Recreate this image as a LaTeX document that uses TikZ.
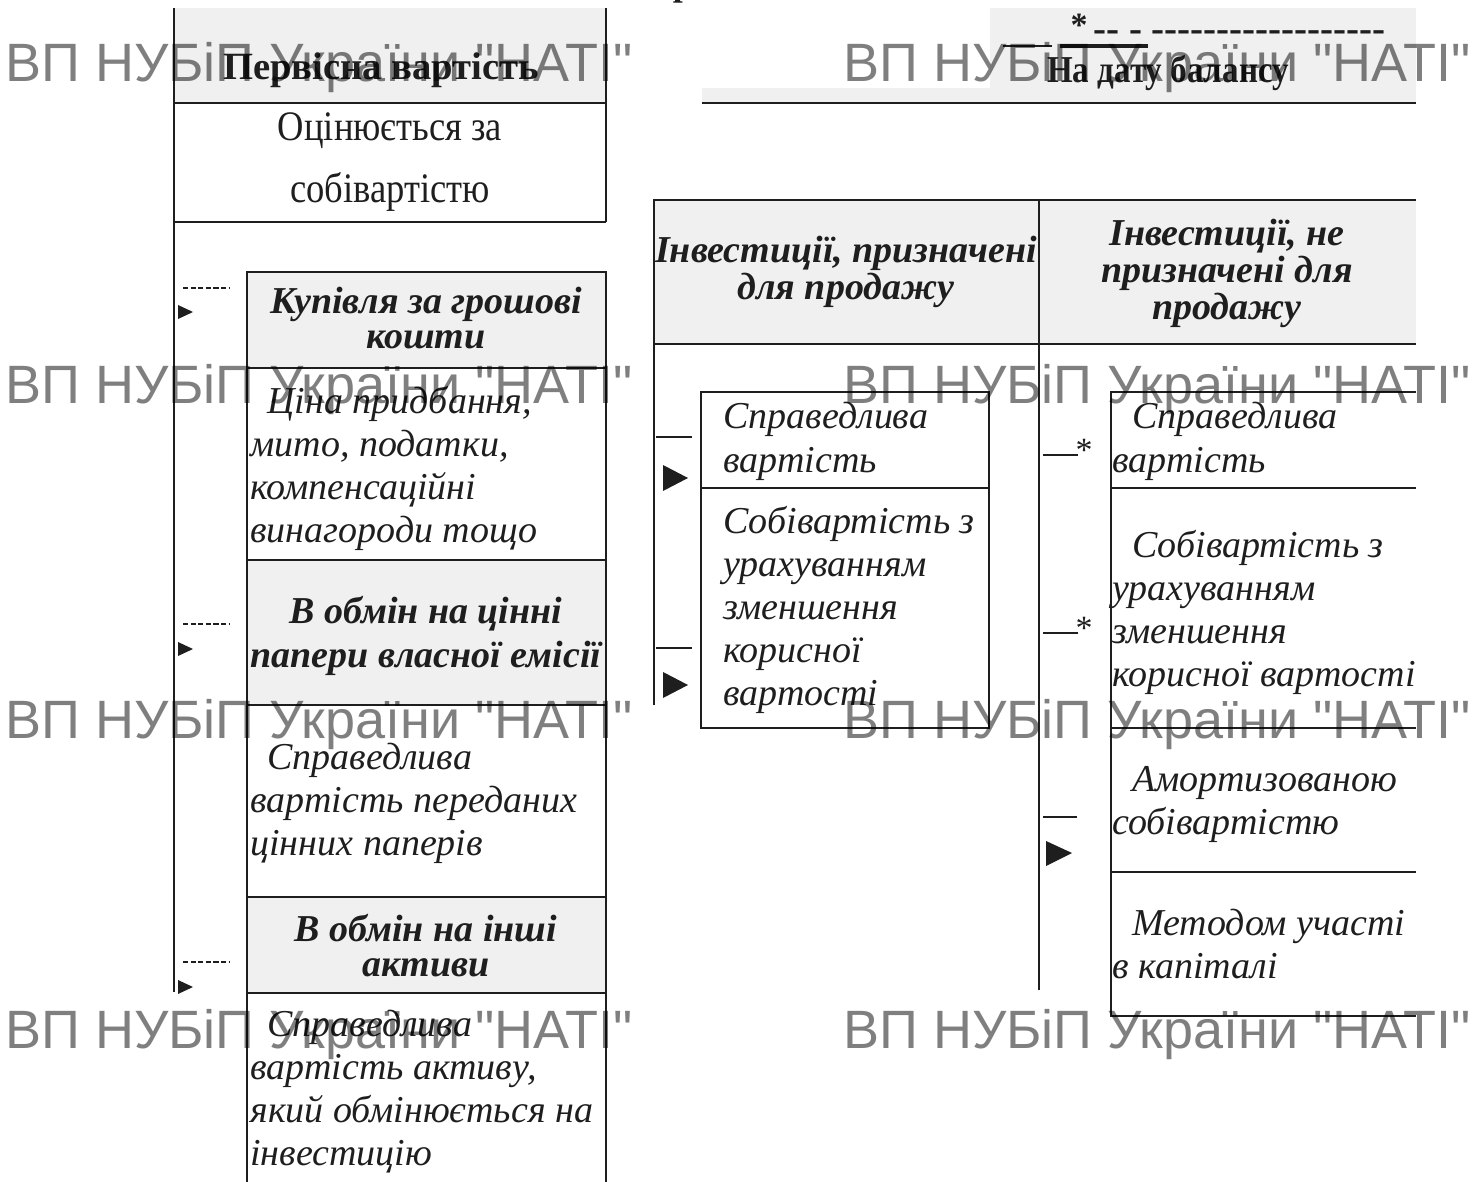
\documentclass[tikz,border=0pt]{standalone}
\usepackage{fontspec}
\setmainfont{Liberation Serif}
\newfontfamily\wmfont{Liberation Sans}
\newfontfamily\cserif[FakeStretch=0.87]{Liberation Serif}
\newcommand\myhy{\mbox{-}}
\definecolor{hdr}{HTML}{F0F0F0}
\definecolor{ink}{HTML}{1E1E1E}
\tikzset{
  frame/.style={line width=1.3pt, draw=ink},
  thinframe/.style={line width=1pt, draw=ink},
  bodyit/.style={anchor=base west, inner sep=0pt, align=left, text=ink, font=\fontsize{19}{21.5}\selectfont\itshape},
  headbi/.style={anchor=base, inner sep=0pt, align=center, text=ink, font=\fontsize{19}{18.5}\selectfont\bfseries\itshape},
  uprt/.style={anchor=base, inner sep=0pt, align=center, text=ink, font=\cserif\fontsize{21}{31}\selectfont},
  boldup/.style={anchor=base, inner sep=0pt, text=ink, font=\fontsize{18}{18}\selectfont\bfseries},
  wm/.style={anchor=base west, inner sep=0pt, text=black, text opacity=0.5, font=\wmfont\fontsize{27}{27}\selectfont},
  dashmark/.style={line width=0.6pt, draw=ink, dash pattern=on 2.6pt off 1.2pt},
  tipfill/.style={fill=ink},
}
\begin{document}
\begin{tikzpicture}[x=0.5pt,y=-0.5pt]
\useasboundingbox (0,0) rectangle (1484,1182);

% ---------- top fragment of cut-off title
\node[boldup, anchor=base] (titlefrag) at (683,-4) {р};

% ---------- left column: initial cost
\fill[hdr] (174,8) rectangle (606,103);
\draw[frame] (174,8) -- (174,992);
\draw[frame] (606,8) -- (606,222);
\draw[frame] (174,103) -- (606,103);
\draw[frame] (174,222) -- (606,222);
\node[boldup, font=\fontsize{19.3}{19.3}\selectfont\bfseries] (pervisna) at (381,80) {Первісна вартість};
\node[uprt] (otsin) at (390,203) {Оцінюється за\\собівартістю};

% ---------- left column: ways of acquisition
\fill[hdr] (247,272) rectangle (606,368);
\fill[hdr] (247,560) rectangle (606,705);
\fill[hdr] (247,897) rectangle (606,993);
\draw[frame] (247,1190) -- (247,272) -- (606,272) -- (606,1190);
\foreach \yy in {368,560,705,897,993} \draw[frame] (247,\yy) -- (606,\yy);

\node[headbi, font=\fontsize{19}{17.5}\selectfont\bfseries\itshape] (kupivlia) at (426,349) {Купівля за грошові\\кошти};
\node[bodyit] (tsina) at (250,542) {\hspace*{8.5pt}Ціна придбання,\\мито, податки,\\компенсаційні\\винагороди тощо};
\node[headbi, font=\fontsize{19}{22}\selectfont\bfseries\itshape] (obminpap) at (426,667) {В обмін на цінні\\папери власної емісії};
\node[bodyit] (sprpap) at (250,855) {\hspace*{8.5pt}Справедлива\\вартість переданих\\цінних паперів};
\node[headbi, font=\fontsize{19}{17.5}\selectfont\bfseries\itshape] (obminakt) at (426,976) {В обмін на інші\\активи};
\node[bodyit] (sprakt) at (250,1165) {\hspace*{8.5pt}Справедлива\\вартість активу,\\який обмінюється на\\інвестицію};

% small dashed pointers on the left
\foreach \yy/\ty in {288/312, 624/649, 962/987}{
  \draw[dashmark] (183,\yy) -- (229,\yy);
  \fill[tipfill] (178,\ty-7) -- (193,\ty) -- (178,\ty+7) -- cycle;
}

% ---------- right: at balance date
\fill[hdr] (990,8) rectangle (1416,103);
\fill[hdr] (702,88) rectangle (990,103);
\draw[frame] (702,103) -- (1416,103);
\node[boldup, font=\fontsize{17}{17}\selectfont\bfseries] (star0) at (1079,37) {*};
\node[boldup, anchor=base west, font=\fontsize{19.5}{19.5}\selectfont\bfseries] (dashes0) at (1093,42) {\myhy\myhy{} \myhy{} \myhy\myhy\myhy\myhy\myhy\myhy\myhy\myhy\myhy\myhy\myhy\myhy\myhy\myhy\myhy\myhy\myhy\myhy};
\draw[line width=0.8pt, draw=ink] (1003,46) -- (1052,46);
\draw[line width=2pt, draw=ink] (1060,46) -- (1148,46);
\node[boldup, font=\cserif\fontsize{19}{19}\selectfont\bfseries] (nadatu) at (1168,83) {На дату балансу};

% ---------- big table
\fill[hdr] (654,200) rectangle (1416,344);
\draw[frame] (654,705) -- (654,200) -- (1416,200);
\draw[frame] (654,344) -- (1416,344);
\draw[frame] (1039,200) -- (1039,990);
\node[headbi] (invprod) at (846,300) {Інвестиції, призначені\\для продажу};
\node[headbi] (invne) at (1227,320) {Інвестиції, не\\призначені для\\продажу};

% left inner box
\draw[thinframe] (701,392) rectangle (989,728);
\draw[thinframe] (701,488) -- (989,488);
\node[bodyit] (sprL) at (723,472) {Справедлива\\вартість};
\node[bodyit] (sobL) at (723,705) {Собівартість з\\урахуванням\\зменшення\\корисної\\вартості};
\foreach \yy/\ty in {437/478, 648/685}{
  \draw[line width=1pt, draw=ink] (656,\yy) -- (692,\yy);
  \fill[tipfill] (663,\ty-13) -- (688,\ty) -- (663,\ty+13) -- cycle;
}

% right inner table
\draw[thinframe] (1416,392) -- (1111,392) -- (1111,1016) -- (1416,1016);
\foreach \yy in {488,728,872} \draw[thinframe] (1111,\yy) -- (1416,\yy);
\node[bodyit] (sprR) at (1112,472) {\hspace*{10pt}Справедлива\\вартість};
\node[bodyit] (sobR) at (1112,686) {\hspace*{10pt}Собівартість з\\урахуванням\\зменшення\\корисної вартості};
\node[bodyit] (amort) at (1112,834) {\hspace*{10pt}Амортизованою\\собівартістю};
\node[bodyit] (metod) at (1112,978) {\hspace*{10pt}Методом участі\\в капіталі};
\foreach \yy in {455,633}{
  \draw[line width=1pt, draw=ink] (1043,\yy) -- (1078,\yy);
}
\node[anchor=base, inner sep=0pt, text=ink, font=\fontsize{17}{17}\selectfont] (st1) at (1084,461) {*};
\node[anchor=base, inner sep=0pt, text=ink, font=\fontsize{17}{17}\selectfont] (st2) at (1084,639) {*};
\draw[line width=1pt, draw=ink] (1043,817) -- (1077,817);
\fill[tipfill] (1046,841) -- (1072,853) -- (1046,866) -- cycle;

% ---------- watermarks
\foreach \yy/\nm in {82/a,403/b,738/c,1048/d}{
  \node[wm] (wmL\nm) at (5,\yy) {ВП НУБіП України "НАТІ"};
  \node[wm] (wmR\nm) at (843,\yy) {ВП НУБіП України "НАТІ"};
}
\end{tikzpicture}
\end{document}
